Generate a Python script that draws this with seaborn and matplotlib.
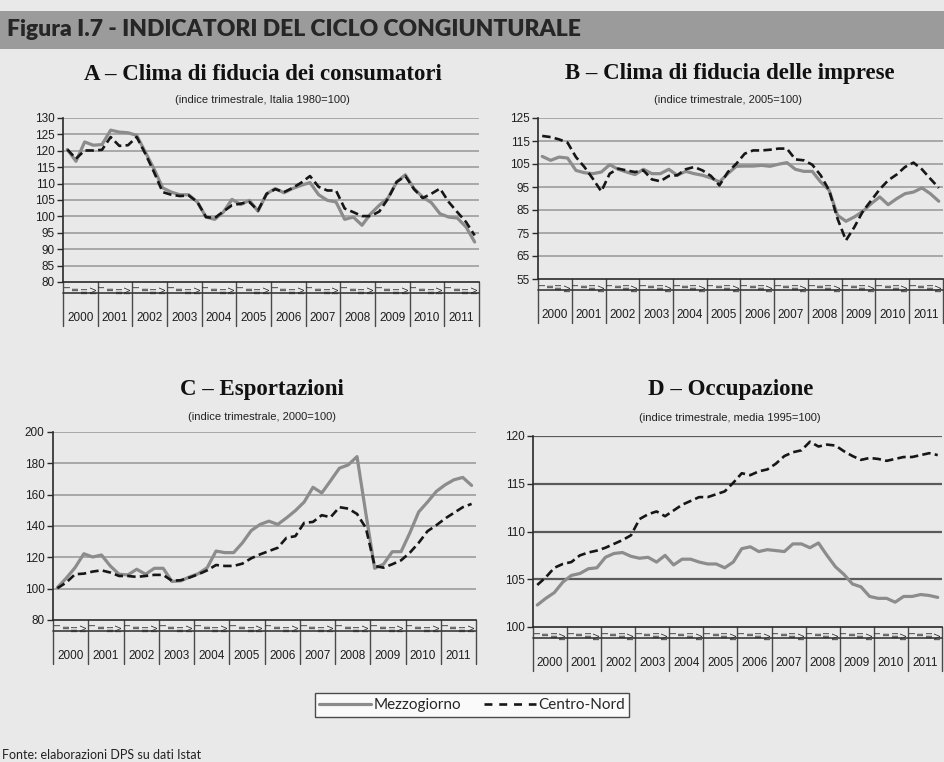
import numpy as np
import pandas as pd
import matplotlib
matplotlib.use("Agg")
import matplotlib.pyplot as plt
import matplotlib.transforms as mtransforms
from matplotlib.lines import Line2D
from matplotlib.patches import Rectangle
import seaborn as sns

# ---------------- data ----------------
years = [str(y) for y in range(2000, 2012)]
quarters = ["I", "II", "III", "IV"]
series_names = ["Mezzogiorno", "Centro-Nord"]

a_mezz = [120.4, 116.8, 122.7, 121.7, 121.9, 126.3, 125.7, 125.5,
          124.7, 119.6, 114.5, 108.7, 107.4, 106.6, 106.6, 104.4,
          99.8, 99.1, 101.3, 105.2, 103.6, 104.9, 101.6, 106.9,
          108.5, 107.2, 108.5, 109.5, 110.3, 106.6, 104.9, 104.4,
          99.1, 99.8, 97.3, 100.8, 103.4, 105.6, 110.5, 112.7,
          108.5, 105.9, 104.2, 100.8, 99.8, 99.5, 96.8, 92.2]
a_cn = [120.4, 117.6, 120.1, 120.1, 120.3, 124.2, 121.5, 121.7,
        124.2, 119.1, 113.5, 107.4, 106.6, 106.2, 106.4, 104.4,
        99.8, 99.5, 101.5, 103.4, 103.9, 104.4, 101.8, 106.9,
        108.3, 107.4, 108.7, 110.3, 112.3, 109.0, 107.9, 107.9,
        102.4, 101.3, 100.1, 100.1, 101.5, 105.4, 110.5, 112.3,
        108.3, 105.6, 106.9, 108.5, 104.4, 101.3, 98.3, 94.2]

b_mezz = [108.3, 106.6, 108.0, 107.6, 102.2, 101.2, 100.8, 101.5,
          104.7, 102.7, 101.5, 100.4, 102.7, 100.8, 100.8, 102.7,
          100.1, 101.8, 100.8, 100.1, 98.9, 97.2, 100.8, 104.0,
          104.1, 104.1, 104.4, 104.0, 104.9, 105.6, 102.7, 101.8,
          101.8, 97.2, 93.6, 82.7, 80.1, 82.0, 84.4, 87.8,
          90.7, 87.3, 89.9, 92.1, 92.8, 94.6, 92.1, 88.8]
b_cn = [117.2, 116.7, 115.7, 114.3, 108.0, 103.7, 98.6, 93.1,
        100.8, 103.0, 102.2, 101.5, 102.2, 98.3, 97.5, 99.8,
        100.1, 102.7, 103.7, 102.2, 99.8, 95.7, 101.5, 105.1,
        109.5, 110.9, 110.9, 111.2, 111.7, 111.7, 107.0, 106.6,
        104.7, 100.1, 93.6, 81.2, 71.8, 77.6, 84.4, 89.2,
        94.0, 97.9, 100.4, 103.7, 105.6, 102.7, 98.6, 94.6]

c_mezz = [100.7, 106.7, 113.4, 122.3, 120.2, 121.5, 114.5, 109.2,
          108.8, 112.4, 109.2, 113.0, 113.0, 104.6, 105.0, 107.5,
          109.6, 113.4, 124.0, 123.0, 123.0, 129.3, 137.1, 141.0,
          143.1, 141.0, 145.2, 149.8, 155.3, 164.7, 161.1, 168.9,
          176.9, 179.0, 184.3, 148.0, 113.0, 115.6, 123.6, 123.6,
          135.7, 149.0, 155.3, 162.1, 166.3, 169.5, 171.0, 165.9]
c_cn = [100.3, 103.9, 109.2, 109.6, 110.9, 111.7, 110.3, 108.1,
        108.1, 107.5, 108.1, 108.8, 108.8, 105.0, 105.4, 107.1,
        109.2, 111.7, 115.1, 114.5, 114.5, 116.0, 119.4, 121.9,
        124.0, 126.1, 132.5, 133.5, 142.0, 142.6, 146.9, 145.6,
        152.0, 151.1, 147.7, 138.8, 114.5, 113.4, 115.6, 118.1,
        123.0, 129.3, 136.7, 140.5, 144.8, 148.4, 152.0, 154.1]

d_mezz = [102.3, 103.0, 103.6, 104.7, 105.4, 105.6, 106.1, 106.2,
          107.3, 107.7, 107.8, 107.4, 107.2, 107.3, 106.8, 107.5,
          106.5, 107.1, 107.1, 106.8, 106.6, 106.6, 106.2, 106.8,
          108.2, 108.4, 107.9, 108.1, 108.0, 107.9, 108.7, 108.7,
          108.3, 108.8, 107.5, 106.3, 105.5, 104.5, 104.2, 103.2,
          103.0, 103.0, 102.6, 103.2, 103.2, 103.4, 103.3, 103.1]
d_cn = [104.4, 105.2, 106.2, 106.6, 106.8, 107.5, 107.8, 108.0,
        108.3, 108.7, 109.1, 109.6, 111.3, 111.8, 112.1, 111.6,
        112.2, 112.8, 113.2, 113.6, 113.6, 113.9, 114.2, 115.1,
        116.1, 115.9, 116.3, 116.5, 117.1, 117.9, 118.3, 118.5,
        119.4, 118.9, 119.1, 119.0, 118.4, 117.9, 117.5, 117.7,
        117.6, 117.4, 117.6, 117.8, 117.8, 118.0, 118.2, 118.0]

a_ticks = [80, 85, 90, 95, 100, 105, 110, 115, 120, 125, 130]
b_ticks = [55, 65, 75, 85, 95, 105, 115, 125]
c_ticks = [80, 100, 120, 140, 160, 180, 200]
d_ticks = [100, 105, 110, 115, 120]

titles = ["A – Clima di fiducia dei consumatori",
          "B – Clima di fiducia delle imprese",
          "C – Esportazioni",
          "D – Occupazione"]
subtitles = ["(indice trimestrale, Italia 1980=100)",
             "(indice trimestrale, 2005=100)",
             "(indice trimestrale, 2000=100)",
             "(indice trimestrale, media 1995=100)"]

# ---------------- style ----------------
W, H = 945, 762
BG = "#e9e9e9"
sns.set_theme(style="white")
plt.rcParams["font.family"] = ["Liberation Sans", "DejaVu Sans"]
plt.rcParams["figure.facecolor"] = BG
plt.rcParams["axes.facecolor"] = BG

fig = plt.figure(figsize=(W / 100, H / 100), dpi=100)
fig.patch.set_facecolor(BG)

# header band
fig.add_artist(Rectangle((0, 1 - 49 / H), 1, 38 / H, transform=fig.transFigure,
                         facecolor="#9b9b9b", edgecolor="none", zorder=0))
fig.text(7 / W, 1 - 29 / H, "Figura I.7 - INDICATORI DEL CICLO CONGIUNTURALE",
         fontsize=16.5, fontweight="heavy", family=["Lato", "DejaVu Sans"],
         color="#262626", ha="left", va="center")

# panel geometry in pixels: left, top, width, bottom
panels = [
    dict(px=(63, 118, 416, 282), data=(a_mezz, a_cn), ticks=a_ticks, grid="#a3a3a3", glw=1.3),
    dict(px=(538, 118, 405, 279), data=(b_mezz, b_cn), ticks=b_ticks, grid="#a3a3a3", glw=1.3),
    dict(px=(53, 432, 423, 620), data=(c_mezz, c_cn), ticks=c_ticks, grid="#a3a3a3", glw=1.3),
    dict(px=(533, 436, 409, 627), data=(d_mezz, d_cn), ticks=d_ticks, grid="#5a5a5a", glw=1.6),
]
title_px = [(263, 74), (730, 74), (262, 390), (731, 390)]
sub_px = [(262, 100), (728, 100), (262, 417), (730, 418)]

palette = {"Mezzogiorno": "#8c8c8c", "Centro-Nord": "#161616"}
dashes = {"Mezzogiorno": "", "Centro-Nord": (3.2, 1.6)}
sizes = {"Mezzogiorno": 2.3, "Centro-Nord": 1.9}

t = np.arange(len(years) * 4)

for k, p in enumerate(panels):
    l, top, w, bot = p["px"]
    ax = fig.add_axes([l / W, 1 - bot / H, w / W, (bot - top) / H])
    ax.set_facecolor(BG)
    mezz, cn = p["data"]
    df = pd.DataFrame({
        "t": np.concatenate([t, t]),
        "v": np.concatenate([mezz, cn]),
        "area": [series_names[0]] * len(t) + [series_names[1]] * len(t),
    })
    sns.lineplot(data=df, x="t", y="v", hue="area", style="area",
                 size="area", sizes=sizes, palette=palette, dashes=dashes,
                 ax=ax, legend=False, zorder=3)
    ticks = p["ticks"]
    ax.set_ylim(ticks[0], ticks[-1])
    ax.set_xlim(-0.5, len(t) - 0.5)
    ax.set_yticks(ticks)
    ax.set_yticklabels([str(v) for v in ticks])
    ax.set_xticks([])
    ax.set_xlabel("")
    ax.set_ylabel("")
    for v in ticks[1:]:
        ax.axhline(v, color=p["grid"], lw=p["glw"], zorder=1)
    for s in ["top", "right"]:
        ax.spines[s].set_visible(False)
    for s in ["left", "bottom"]:
        ax.spines[s].set_color("#2a2a2a")
        ax.spines[s].set_linewidth(1.2)
    ax.tick_params(axis="y", left=True, length=4, width=1, color="#2a2a2a",
                   labelsize=8.5, labelcolor="#1e1e1e", pad=2)

    # category band below the axis
    hpx = bot - top
    trans = mtransforms.blended_transform_factory(ax.transData, ax.transAxes)
    def off(px):
        return -px / hpx
    for j in range(len(years) + 1):
        x = -0.5 + 4 * j
        ax.plot([x, x], [0, off(44)], transform=trans, color="#4a4a4a", lw=1.0,
                clip_on=False, zorder=2)
    ax.plot([-0.5, len(t) - 0.5], [off(11), off(11)], transform=trans,
            color="#3a3a3a", lw=1.2, clip_on=False)
    for i in range(len(t)):
        ax.text(i, off(4), quarters[i % 4], rotation=90, ha="center", va="top",
                fontsize=6.5, color="#2a2a2a", transform=trans, clip_on=False)
    for j, y in enumerate(years):
        ax.text(4 * j + 1.5, off(36), y, ha="center", va="center",
                fontsize=8.5, color="#1e1e1e", transform=trans)

    tx, ty = title_px[k]
    fig.text(tx / W, 1 - ty / H, titles[k], ha="center", va="center",
             fontsize=16.5, fontweight="bold", family=["Liberation Serif", "DejaVu Serif"],
             color="#111111")
    sx, sy = sub_px[k]
    fig.text(sx / W, 1 - sy / H, subtitles[k], ha="center", va="center",
             fontsize=8, color="#222222")

# legend
handles = [Line2D([], [], color=palette["Mezzogiorno"], lw=2.3),
           Line2D([], [], color=palette["Centro-Nord"], lw=1.9, dashes=(3.0, 2.6))]
leg = fig.legend(handles, series_names, loc="center",
                 bbox_to_anchor=(472 / W, 1 - 705 / H), ncol=2, frameon=True,
                 fancybox=False, edgecolor="#222222", facecolor="white",
                 handlelength=3.4, columnspacing=1.5, handletextpad=0.15,
                 borderpad=0.3, prop={"family": ["Lato", "DejaVu Sans"], "size": 11})
leg.get_frame().set_linewidth(1.0)

fig.text(2 / W, 1 - 761 / H, "Fonte: elaborazioni DPS su dati Istat",
         ha="left", va="bottom", fontsize=9, family=["Lato", "DejaVu Sans"], color="#222222")

fig.savefig("out.png", dpi=100, facecolor=BG)
